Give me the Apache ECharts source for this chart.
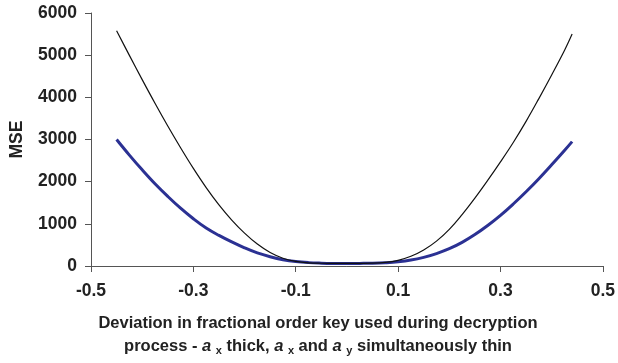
<!DOCTYPE html>
<html>
<head>
<meta charset="utf-8">
<script src="https://cdn.jsdelivr.net/npm/echarts@6/dist/echarts.min.js"></script>
<style>
  html, body { margin: 0; padding: 0; background: #fff; }
  #chart { width: 618px; height: 363px; }
</style>
</head>
<body>
<div id="chart"></div>
<script>
// Deviation of the fractional order key
const deviation = [-0.45, -0.425, -0.4, -0.375, -0.35, -0.325, -0.3, -0.275, -0.25, -0.225,
  -0.2, -0.175, -0.15, -0.125, -0.1, -0.075, -0.05, -0.025, 0, 0.025, 0.05, 0.075,
  0.1, 0.125, 0.15, 0.175, 0.2, 0.225, 0.25, 0.275, 0.3, 0.325, 0.35, 0.375, 0.4, 0.425, 0.44];

// MSE when a_x and a_y are both off (thin black line)
const mseBoth = [5580, 4995, 4420, 3860, 3320, 2805, 2315, 1860, 1450, 1090,
  780, 520, 320, 185, 110, 75, 65, 62, 60, 62, 66, 85,
  135, 230, 380, 590, 870, 1220, 1610, 2030, 2470, 2930, 3430, 3970, 4530, 5110, 5500];

// MSE when only a_x is off (thick blue line)
const mseAx = [3000, 2630, 2280, 1950, 1650, 1370, 1120, 900, 725, 570,
  430, 310, 220, 150, 105, 80, 68, 62, 60, 62, 66, 78,
  100, 140, 205, 295, 410, 560, 745, 960, 1200, 1470, 1760, 2070, 2400, 2740, 2950];

const xTicks = [-0.5, -0.3, -0.1, 0.1, 0.3, 0.5];

const pairs = (ys) => deviation.map((x, i) => [x, ys[i]]);

const chart = echarts.init(document.getElementById('chart'), null, { renderer: 'canvas' });
const FONT = 'Liberation Sans, Arial, sans-serif';
const axisColor = '#555';
const textColor = '#222';

chart.setOption({
  animation: false,
  backgroundColor: '#fff',
  grid: { left: 91, right: 14, top: 13, bottom: 97 },
  xAxis: {
    type: 'value',
    min: -0.5, max: 0.5, interval: 0.2,
    axisLine: { onZero: false, lineStyle: { color: axisColor, width: 1 } },
    axisTick: { show: true, length: 6, lineStyle: { color: axisColor } },
    splitLine: { show: false },
    axisLabel: {
      margin: 16,
      color: textColor, fontFamily: FONT, fontWeight: 'bold', fontSize: 17.5,
      formatter: (v) => {
        const hit = xTicks.find(t => Math.abs(t - v) < 1e-9);
        return hit === undefined ? '' : hit.toFixed(1);
      }
    }
  },
  yAxis: {
    type: 'value',
    min: 0, max: 6000, interval: 1000,
    name: 'MSE',
    nameLocation: 'middle',
    nameGap: 65,
    nameRotate: 90,
    nameTextStyle: { color: textColor, fontFamily: FONT, fontWeight: 'bold', fontSize: 17.5 },
    axisLine: { show: true, onZero: false, lineStyle: { color: axisColor, width: 1 } },
    axisTick: { show: true, length: 6, lineStyle: { color: axisColor } },
    splitLine: { show: false },
    axisLabel: {
      margin: 14, color: textColor, fontFamily: FONT, fontWeight: 'bold', fontSize: 17.5,
      formatter: (v) => String(v)
    }
  },
  series: [
    {
      type: 'line', data: pairs(mseAx), smooth: 0.4, symbol: 'none',
      lineStyle: { color: '#2b3193', width: 3 }, z: 2
    },
    {
      type: 'line', data: pairs(mseBoth), smooth: 0.4, symbol: 'none',
      lineStyle: { color: '#111', width: 1.2 }, z: 3
    }
  ],
  graphic: [
    {
      type: 'text', x: 318, y: 323,
      style: {
        text: 'Deviation in fractional order key used during decryption',
        font: 'bold 16.5px ' + FONT, fill: textColor,
        align: 'center', verticalAlign: 'middle'
      }
    },
    {
      type: 'text', x: 318, y: 346,
      style: {
        text: 'process - {i|a} {s|x} thick, {i|a} {s|x} and {i|a} {s|y} simultaneously thin',
        font: 'bold 16.5px ' + FONT, fill: textColor,
        align: 'center', verticalAlign: 'middle',
        rich: {
          i: { fontFamily: FONT, fontWeight: 'bold', fontStyle: 'italic', fontSize: 16.5, fill: textColor },
          s: { fontFamily: FONT, fontWeight: 'bold', fontSize: 11, fill: textColor, padding: [10, 0, 0, 0] }
        }
      }
    }
  ]
});
</script>
</body>
</html>
